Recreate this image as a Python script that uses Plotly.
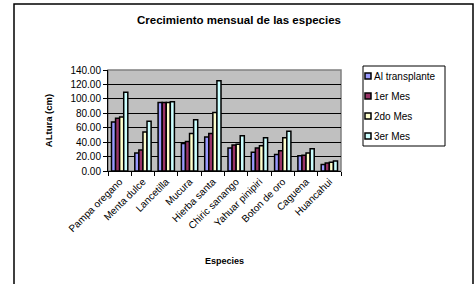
import plotly.graph_objects as go

categories = ["Pampa oregano", "Menta dulce", "Lancetilla", "Mucura", "Hierba santa",
              "Chiric sanango", "Yahuar pinipiri", "Boton de oro", "Caguena", "Huancahui"]
series_names = ["Al transplante", "1er Mes", "2do Mes", "3er Mes"]
al_transplante = [68, 25, 95, 38, 47, 32, 26, 23, 21, 9]
mes1 = [73, 29, 95, 41, 52, 36, 32, 28, 22, 11]
mes2 = [75, 54, 95, 52, 81, 37, 35, 46, 25, 12]
mes3 = [109, 69, 96, 71, 125, 49, 46, 55, 31, 14]
colors = ["#9999FF", "#993366", "#FFFFCC", "#CCFFFF"]
y_ticks = [0, 20, 40, 60, 80, 100, 120, 140]

FONT = "Liberation Sans, Arial, sans-serif"

# plot area in pixels
PL, PR, PT, PB = 108, 341, 70, 171
W, H = 476, 284


def px(x):
    return (x - PL) / (PR - PL)


def py(y):
    return (PB - y) / (PB - PT)


fig = go.Figure()
for name, vals, col in zip(series_names, [al_transplante, mes1, mes2, mes3], colors):
    fig.add_trace(go.Bar(
        x=categories, y=vals, name=name, showlegend=False,
        marker=dict(color=col, line=dict(color="black", width=1.5)),
    ))

fig.update_layout(
    width=W, height=H,
    margin=dict(l=PL, r=W - PR, t=PT, b=H - PB, autoexpand=False),
    paper_bgcolor="white",
    plot_bgcolor="#C0C0C0",
    barmode="group",
    bargap=0.3,
    bargroupgap=0,
    font=dict(family=FONT, size=9, color="black"),
    title=dict(text="<b>Crecimiento mensual de las especies</b>",
               x=239 / W, xanchor="center", y=1 - 20 / H, yanchor="middle",
               font=dict(family=FONT, size=11.5, color="black")),
    xaxis=dict(
        title=dict(text="<b>Especies</b>", font=dict(family=FONT, size=9), standoff=24),
        tickangle=-45,
        ticks="outside", ticklen=4, tickcolor="black",
        tickson="boundaries",
        showline=True, linecolor="black", linewidth=1,
        tickfont=dict(family=FONT, size=10),
        automargin=False,
    ),
    yaxis=dict(
        title=dict(text="<b>ALtura (cm)</b>", font=dict(family=FONT, size=9.5), standoff=16),
        range=[0, 140],
        tickvals=y_ticks,
        tickformat=".2f",
        ticks="outside", ticklen=4, tickcolor="black",
        showline=True, linecolor="black", linewidth=1,
        showgrid=True, gridcolor="black", gridwidth=1,
        zeroline=False,
        tickfont=dict(family=FONT, size=10),
        automargin=False,
    ),
)

# plot-area border (gray)
fig.add_shape(type="rect", xref="paper", yref="paper", x0=0, y0=0, x1=1, y1=1,
              line=dict(color="#808080", width=1.5), layer="below")
# outer chart frame
fig.add_shape(type="rect", xref="paper", yref="paper",
              x0=px(14), x1=px(473), y0=py(300), y1=py(4),
              line=dict(color="black", width=1.5))

# legend box
fig.add_shape(type="rect", xref="paper", yref="paper",
              x0=px(363), x1=px(445), y0=py(146), y1=py(66),
              line=dict(color="black", width=1), fillcolor="white")
leg_y = [76, 96, 116, 136]
for name, col, yy in zip(series_names, colors, leg_y):
    fig.add_shape(type="rect", xref="paper", yref="paper",
                  x0=px(365), x1=px(371), y0=py(yy + 3), y1=py(yy - 3),
                  line=dict(color="black", width=1.5), fillcolor=col)
    fig.add_annotation(xref="paper", yref="paper", x=px(372), y=py(yy),
                       xanchor="left", yanchor="middle", showarrow=False,
                       text=name, font=dict(family=FONT, size=10, color="black"))

fig.write_html("out.html", config={"displayModeBar": False},
               post_script="document.body.style.margin='0';")
